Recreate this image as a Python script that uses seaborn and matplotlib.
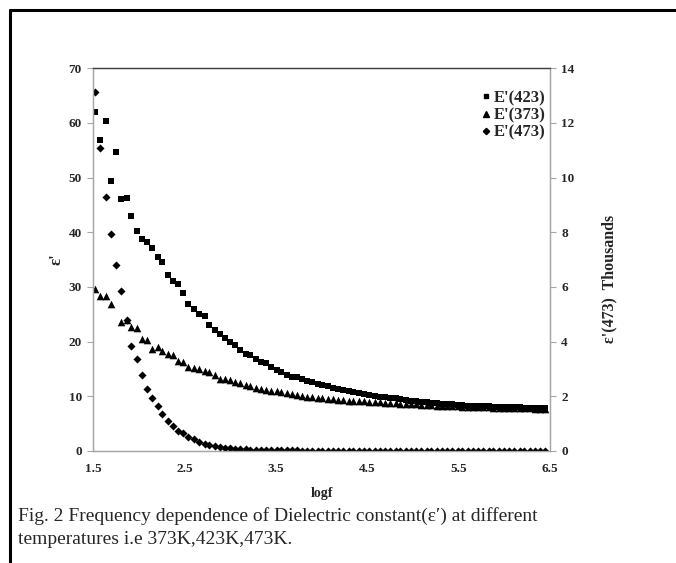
import numpy as np
import pandas as pd
import seaborn as sns
import matplotlib.pyplot as plt
from matplotlib.lines import Line2D

# log of frequency
logf = [1.525, 1.58, 1.64, 1.70, 1.75, 1.81, 1.87, 1.92, 1.98, 2.04, 2.09, 2.15, 2.21, 2.26,
        2.32, 2.38, 2.43, 2.49, 2.54, 2.60, 2.66, 2.72, 2.77, 2.83, 2.89, 2.94, 3.00, 3.05,
        3.11, 3.17, 3.22, 3.28, 3.34, 3.39, 3.45, 3.51, 3.56, 3.62, 3.68, 3.73, 3.79, 3.84,
        3.90, 3.96, 4.01, 4.07, 4.13, 4.18, 4.24, 4.30, 4.35, 4.41, 4.47, 4.52, 4.58, 4.64,
        4.69, 4.75, 4.81, 4.86, 4.92, 4.98, 5.03, 5.09, 5.15, 5.20, 5.26, 5.32, 5.37, 5.43,
        5.49, 5.54, 5.60, 5.66, 5.71, 5.77, 5.83, 5.88, 5.94, 6.00, 6.05, 6.11, 6.17, 6.22,
        6.28, 6.34, 6.39, 6.45]

# E'(423) - left axis
eps_423 = [61.9, 56.8, 60.4, 49.4, 54.6, 46.1, 46.3, 43.0, 40.3, 38.8, 38.2, 37.2, 35.5, 34.5,
           32.1, 31.1, 30.5, 28.8, 26.9, 26.0, 25.0, 24.7, 23.0, 22.1, 21.4, 20.7, 20.0, 19.3,
           18.5, 17.8, 17.5, 16.9, 16.3, 16.0, 15.4, 14.8, 14.5, 13.9, 13.6, 13.5, 13.2, 12.85,
           12.6, 12.3, 12.1, 11.9, 11.6, 11.4, 11.2, 11.0, 10.8, 10.6, 10.4, 10.3, 10.1, 9.95,
           9.8, 9.7, 9.6, 9.5, 9.35, 9.2, 9.1, 8.95, 8.9, 8.8, 8.7, 8.6, 8.55, 8.5,
           8.45, 8.4, 8.3, 8.3, 8.25, 8.2, 8.15, 8.1, 8.05, 8.0, 8.0, 7.95, 7.95, 7.9,
           7.9, 7.9, 7.85, 7.85]

# E'(373) - left axis
eps_373 = [29.7, 28.4, 28.4, 26.9, np.nan, 23.5, 24.0, 22.7, 22.4, 20.5, 20.2, 18.7, 19.0, 18.3,
           17.7, 17.5, 16.5, 16.3, 15.4, 15.2, 15.0, 14.7, 14.4, 13.9, 13.2, 13.2, 12.9, 12.7,
           12.4, 12.1, 11.9, 11.6, 11.4, 11.2, 11.0, 11.0, 10.8, 10.6, 10.35, 10.2, 10.1, 9.9,
           9.8, 9.7, 9.6, 9.5, 9.45, 9.4, 9.3, 9.2, 9.15, 9.1, 9.05, 9.0, 8.95, 8.9,
           8.85, 8.8, 8.7, 8.65, 8.6, 8.55, 8.5, 8.45, 8.4, 8.35, 8.3, 8.25, 8.2, 8.2,
           8.15, 8.1, 8.05, 8.0, 8.0, 7.95, 7.95, 7.9, 7.9, 7.85, 7.85, 7.85, 7.8, 7.8,
           7.8, 7.75, 7.75, 7.75]

# E'(473) in thousands - right axis
eps_473 = [13.14, 11.08, 9.28, 7.94, 6.80, 5.86, 4.80, 3.85, 3.38, 2.78, 2.28, 1.92, 1.63, 1.34,
           1.10, 0.90, 0.73, 0.66, 0.52, 0.42, 0.32, 0.27, 0.22, 0.18, 0.15, 0.12, 0.10, 0.08,
           0.07, 0.06, 0.05, 0.04, 0.03, 0.03, 0.03, 0.02, 0.02, 0.02, 0.02, 0.02, 0.01, 0.01,
           0.01, 0.01, 0.01, 0.01, 0.01, 0.01, 0.01, 0.01, 0.01, 0.01, 0.01, 0.01, 0.01, 0.01,
           0.01, 0.01, 0.01, 0.01, 0.01, 0.01, 0.01, 0.01, 0.01, 0.01, 0.01, 0.01, 0.01, 0.01,
           0.01, 0.01, 0.01, 0.01, 0.01, 0.01, 0.01, 0.01, 0.01, 0.01, 0.01, 0.01, 0.01, 0.01,
           0.01, 0.01, 0.01, 0.01]

df = pd.DataFrame({'logf': logf, 'E423': eps_423, 'E373': eps_373, 'E473': eps_473})

sns.set_style('white')
plt.rcParams['font.family'] = ['Liberation Serif', 'DejaVu Serif']

fig = plt.figure(figsize=(6.76, 5.63), dpi=100)
ax = fig.add_axes([0.1376, 0.199, 0.676, 0.680])
ax2 = ax.twinx()

sns.scatterplot(data=df, x='logf', y='E423', ax=ax, marker='s', s=20, color='black', linewidth=0)
sns.scatterplot(data=df, x='logf', y='E373', ax=ax, marker='^', s=30, color='black', linewidth=0)
sns.scatterplot(data=df, x='logf', y='E473', ax=ax2, marker='D', s=17, color='black', linewidth=0)

ax.set_xlim(1.5, 6.5)
ax.set_ylim(0, 70)
ax2.set_ylim(0, 14)
ax.set_xticks([1.5, 2.5, 3.5, 4.5, 5.5, 6.5])
ax.set_yticks(range(0, 71, 10))
ax2.set_yticks(range(0, 15, 2))

grey = '#a6a6a6'
for a in (ax, ax2):
    for side in ('left', 'right', 'bottom'):
        a.spines[side].set_color(grey)
        a.spines[side].set_linewidth(0.9)
    a.spines['top'].set_color('#404040')
    a.spines['top'].set_linewidth(0.9)
    a.tick_params(length=4, width=0.8, color=grey, labelsize=9.5, pad=4)
    for lbl in a.get_xticklabels() + a.get_yticklabels():
        lbl.set_fontweight('bold')
ax.tick_params(axis='x', length=4, pad=5)

ax.set_xlabel('logf', fontsize=10, fontweight='bold', labelpad=8)
ax.set_ylabel("ε'", fontsize=12, fontweight='bold')
ax.yaxis.set_label_coords(-0.062, 0.5)
ax2.set_ylabel("ε'(473)  Thousands", fontsize=11.5, fontweight='bold')
ax2.yaxis.set_label_coords(1.112, 0.449)

handles = [Line2D([], [], marker='s', color='black', ls='', markersize=3.4),
           Line2D([], [], marker='^', color='black', ls='', markersize=4.2),
           Line2D([], [], marker='D', color='black', ls='', markersize=3.2)]
ax.legend(handles, ["E'(423)", "E'(373)", "E'(473)"], loc='upper right',
          bbox_to_anchor=(1.005, 0.96), frameon=False, handlelength=0.4,
          handletextpad=0.25, labelspacing=0.08, borderaxespad=0,
          prop={'weight': 'bold', 'size': 12})

# page frame and caption
fig.add_artist(Line2D([0.0155, 0.0155], [0, 0.983], color='black', lw=2.2, transform=fig.transFigure))
fig.add_artist(Line2D([0.0155, 1.0], [0.983, 0.983], color='black', lw=2.2, transform=fig.transFigure))
fig.text(0.026, 0.063, "Fig. 2 Frequency dependence of Dielectric constant(ε′) at different\n"
         "temperatures i.e 373K,423K,473K.", fontsize=14, ha='left', va='center',
         linespacing=1.4)

fig.savefig('out.png', dpi=100)
